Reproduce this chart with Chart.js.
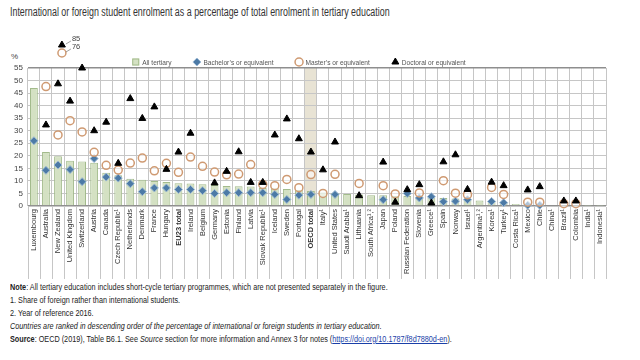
<!DOCTYPE html>
<html>
<head>
<meta charset="utf-8">
<script src="https://cdn.jsdelivr.net/npm/chart.js@4/dist/chart.umd.min.js"></script>
<style>
body { margin:0; width:640px; height:360px; background:#fff; overflow:hidden; position:relative;
  font-family:'Liberation Sans',Arial,sans-serif; color:#222; }
#title { position:absolute; left:10px; top:5px; font-size:12px; color:#333; white-space:nowrap;
  transform:scaleX(0.74); transform-origin:left top; }
#pct { position:absolute; left:11px; top:52px; font-size:8px; color:#444; }
#chartBox { position:absolute; left:0; top:30px; }
#notes { position:absolute; left:10px; top:281px; font-size:8.5px; line-height:13px; color:#222; white-space:nowrap;
  transform:scaleX(0.855); transform-origin:left top; }
#notes a { color:#1a3fa8; }
</style>
</head>
<body>
<div id="title">International or foreign student enrolment as a percentage of total enrolment in tertiary education</div>
<div id="pct">%</div>
<div id="chartBox"><canvas id="chart" width="640" height="250"></canvas></div>
<div id="notes">
<div><b>Note</b>: All tertiary education includes short-cycle tertiary programmes, which are not presented separately in the figure.</div>
<div>1. Share of foreign rather than international students.</div>
<div>2. Year of reference 2016.</div>
<div><i>Countries are ranked in descending order of the percentage of international or foreign students in tertiary education.</i></div>
<div><b>Source</b>: OECD (2019), Table B6.1. See <i>Source</i> section for more information and Annex 3 for notes (<a href="#">https://doi.org/10.1787/f8d7880d-en</a>).</div>
</div>
<script>
const categories = ["Luxembourg", "Australia", "New Zealand", "United Kingdom", "Switzerland", "Austria", "Canada",
  "Czech Republic¹", "Netherlands", "Denmark", "France", "Hungary", "EU23 total", "Ireland", "Belgium", "Germany",
  "Estonia", "Finland", "Latvia", "Slovak Republic¹", "Iceland", "Sweden", "Portugal", "OECD total", "Italy¹",
  "United States", "Saudi Arabia¹", "Lithuania", "South Africa¹,²", "Japan", "Poland", "Russian Federation",
  "Slovenia", "Greece¹", "Spain", "Norway", "Israel¹", "Argentina¹,²", "Korea¹", "Turkey¹", "Costa Rica¹",
  "Mexico", "Chile", "China¹", "Brazil¹", "Colombia", "India¹", "Indonesia¹"];

const allTertiary = [47, 21.5, 19.8, 18, 17.7, 17.2, 13.2, 12.2, 10.8, 10.5, 10, 9.6, 9.1, 9, 8.7, 8.4,
  8, 7.9, 7.8, 7.2, 7.1, 6.8, 6.4, 6, 5.4, 5.2, 4.8, 4.6, 4.3, 4.3, 4, 4,
  3.8, 3.5, 3.2, 3, 2.8, 2.2, 2, 1.7, 0.8, 0.5, 0.4, 0.3, 0.2, 0.2, 0.1, 0.1];
const bachelor = [26, 14.2, 16.3, 14.5, 9.7, 18.9, 11.5, 11.1, 8.9, 5.7, 7.2, 7.2, 6.6, 6.6, 6.1, 5,
  5.3, 5.3, 5.3, 5.3, 4.6, 2.6, 4.3, 4.6, null, 4.6, null, null, null, 2.5, null, 5,
  3.2, 3.7, 1.7, 1.9, 2.5, null, 1.8, 1.3, null, 0.3, 0.3, null, null, null, null, null];
const master = [76, 47.6, 28.3, 34, 29.5, 21.4, 16.2, 14.3, 17.1, 19.1, 14, 17, 13.4, 19.5, 15.8, 13.5,
  12.4, 12.7, 16.5, 8.6, 8.1, 10.6, 7.3, 12.5, 5, 12.6, null, 9, null, 8.1, 4.8, null,
  5.2, null, 10.1, 5.1, 4.5, null, 7.4, 4.6, null, 1.5, 1.5, null, 0.9, 0.9, null, null];
const doctoral = [85, 32.3, 48.7, 41.8, 55, 30, 33.4, 17, 42.8, 34.9, 39.5, 14.6, 21.5, 29, null, 9.2,
  13.8, 21.6, 9.4, 9.4, 28.3, 34.7, 26.8, 21.5, 14.4, 25.5, null, 4.1, null, 17.5, 1.5, 6.5,
  8.5, 1.2, 17.6, 20.4, 6.6, null, 9.5, 8.1, null, 6.4, 7.7, null, 2, 2, null, null];

const yMax = 55;
const yStep = 5;
const boldCats = ["EU23 total", "OECD total"];
const shadedCat = "OECD total";

const FONT = "'Liberation Sans', Arial, sans-serif";
const GRID = '#c6c6c6';

function colWidth(chart) {
  const a = chart.chartArea;
  return (a.right - a.left) / categories.length;
}

// light column behind the OECD average
const shadeColumn = {
  id: 'shadeColumn',
  beforeDraw(chart) {
    const x = chart.scales.x, a = chart.chartArea, ctx = chart.ctx;
    const w = colWidth(chart);
    ctx.save();
    ctx.fillStyle = '#e8e3d4';
    ctx.fillRect(x.getPixelForValue(categories.indexOf(shadedCat)) - w / 2, a.top, w, a.bottom - a.top);
    ctx.restore();
  }
};

// category separators carried on down through the label area
const labelLines = {
  id: 'labelLines',
  afterDraw(chart) {
    const x = chart.scales.x, a = chart.chartArea, ctx = chart.ctx;
    const w = colWidth(chart);
    ctx.save();
    ctx.strokeStyle = GRID;
    ctx.lineWidth = 1;
    ctx.beginPath();
    for (let i = 0; i <= categories.length; i++) {
      const px = Math.round(x.getPixelForValue(0) - w / 2 + i * w) + 0.5;
      ctx.moveTo(px, a.bottom + 1);
      ctx.lineTo(px, a.bottom + 73);
    }
    ctx.stroke();
    ctx.restore();
  }
};

// legend row drawn from the dataset styles (text slightly condensed)
const legendRow = {
  id: 'legendRow',
  afterDraw(chart) {
    const ctx = chart.ctx, a = chart.chartArea;
    const squeeze = 0.82, gap = 22, mark = 10;
    ctx.save();
    ctx.font = '8px ' + FONT;
    ctx.textBaseline = 'middle';
    const items = chart.data.datasets.map(ds => ({ ds, w: ctx.measureText(ds.label).width * squeeze }));
    const total = items.reduce((s, it) => s + mark + it.w, 0) + gap * (items.length - 1);
    let px = (a.left + a.right) / 2 - 18 - total / 2;
    const py = a.top - 6;
    items.forEach(it => {
      const ds = it.ds;
      if (ds.type === 'bar') {
        ctx.fillStyle = ds.backgroundColor;
        ctx.strokeStyle = ds.borderColor;
        ctx.lineWidth = 1;
        ctx.fillRect(px, py - 3.5, 7, 7);
        ctx.strokeRect(px + 0.5, py - 3, 6, 6);
      } else {
        ctx.fillStyle = ds.pointBackgroundColor;
        ctx.strokeStyle = ds.pointBorderColor;
        ctx.lineWidth = ds.pointBorderWidth;
        Chart.helpers.drawPoint(ctx, { pointStyle: ds.pointStyle, radius: 4, borderWidth: ds.pointBorderWidth }, px + 3.5, py);
      }
      ctx.save();
      ctx.translate(px + mark, py + 0.5);
      ctx.scale(squeeze, 1);
      ctx.fillStyle = '#555';
      ctx.fillText(ds.label, 0, 0);
      ctx.restore();
      px += mark + it.w + gap;
    });
    ctx.restore();
  }
};

// values above the axis max are drawn above the plot with their number
const offScale = {
  id: 'offScale',
  afterDatasetsDraw(chart) {
    const x = chart.scales.x, y = chart.scales.y, ctx = chart.ctx;
    const items = [];
    chart.data.datasets.forEach(ds => {
      if (ds.type !== 'line') return;
      ds.data.forEach((v, i) => { if (v != null && v > y.max) items.push({ v, i, ds }); });
    });
    items.sort((a, b) => a.v - b.v);
    ctx.save();
    items.forEach((it, k) => {
      const px = x.getPixelForValue(it.i) + 28;
      const py = chart.chartArea.top - 15 - k * 8;
      ctx.fillStyle = it.ds.pointBackgroundColor;
      ctx.strokeStyle = it.ds.pointBorderColor;
      ctx.lineWidth = it.ds.pointBorderWidth;
      Chart.helpers.drawPoint(ctx, { pointStyle: it.ds.pointStyle, radius: 4, borderWidth: it.ds.pointBorderWidth }, px, py);
      ctx.strokeStyle = '#777';
      ctx.lineWidth = 0.7;
      ctx.beginPath();
      ctx.moveTo(px + 4, py - 1);
      ctx.lineTo(px + 9, py - 4);
      ctx.stroke();
      ctx.fillStyle = '#444';
      ctx.font = '7.5px ' + FONT;
      ctx.textBaseline = 'middle';
      ctx.fillText(String(it.v), px + 10, py - 6);
    });
    ctx.restore();
  }
};

const radius = ctx => (ctx.raw != null && ctx.raw > yMax) ? 0 : 4;

new Chart(document.getElementById('chart'), {
  data: {
    labels: categories,
    datasets: [
      { type: 'bar', label: 'All tertiary', data: allTertiary,
        backgroundColor: '#d4e1c3', borderColor: '#a3bb8c', borderWidth: 1,
        barPercentage: 0.65, categoryPercentage: 1, order: 4 },
      { type: 'line', label: 'Bachelor’s or equivalent', data: bachelor, showLine: false, clip: false,
        pointStyle: 'rectRot', pointRadius: radius, pointBackgroundColor: '#4c7aa6', pointBorderColor: '#9db9d4',
        pointBorderWidth: 1, order: 3 },
      { type: 'line', label: 'Master’s or equivalent', data: master, showLine: false, clip: false,
        pointStyle: 'circle', pointRadius: radius, pointBackgroundColor: 'rgba(255,255,255,0.55)', pointBorderColor: '#cf9a72',
        pointBorderWidth: 1.5, order: 2 },
      { type: 'line', label: 'Doctoral or equivalent', data: doctoral, showLine: false, clip: false,
        pointStyle: 'triangle', pointRadius: radius, pointBackgroundColor: '#000', pointBorderColor: '#000',
        pointBorderWidth: 1, order: 1 }
    ]
  },
  options: {
    responsive: false,
    animation: false,
    layout: { padding: { top: 38, left: 9, right: 34, bottom: 3 } },
    plugins: {
      legend: { display: false },
      tooltip: { enabled: false }
    },
    scales: {
      x: {
        grid: { color: GRID, lineWidth: 1, drawTicks: false, offset: true },
        border: { display: false },
        ticks: {
          autoSkip: false, maxRotation: 90, minRotation: 90, padding: 3, color: '#333',
          font: ctx => ({ size: 7.5, family: FONT,
            weight: boldCats.includes(categories[ctx.index]) ? 'bold' : 'normal' })
        }
      },
      y: {
        min: 0, max: yMax,
        grid: { color: ctx => (ctx.tick.value === 0 || ctx.tick.value === yMax) ? '#8e8e8e' : GRID,
          lineWidth: ctx => (ctx.tick.value === 0 || ctx.tick.value === yMax) ? 1.5 : 1, drawTicks: false },
        border: { display: false },
        ticks: { stepSize: yStep, autoSkip: false, padding: 5, color: '#444', font: { size: 8, family: FONT } }
      }
    }
  },
  plugins: [shadeColumn, labelLines, legendRow, offScale]
});
</script>
</body>
</html>
